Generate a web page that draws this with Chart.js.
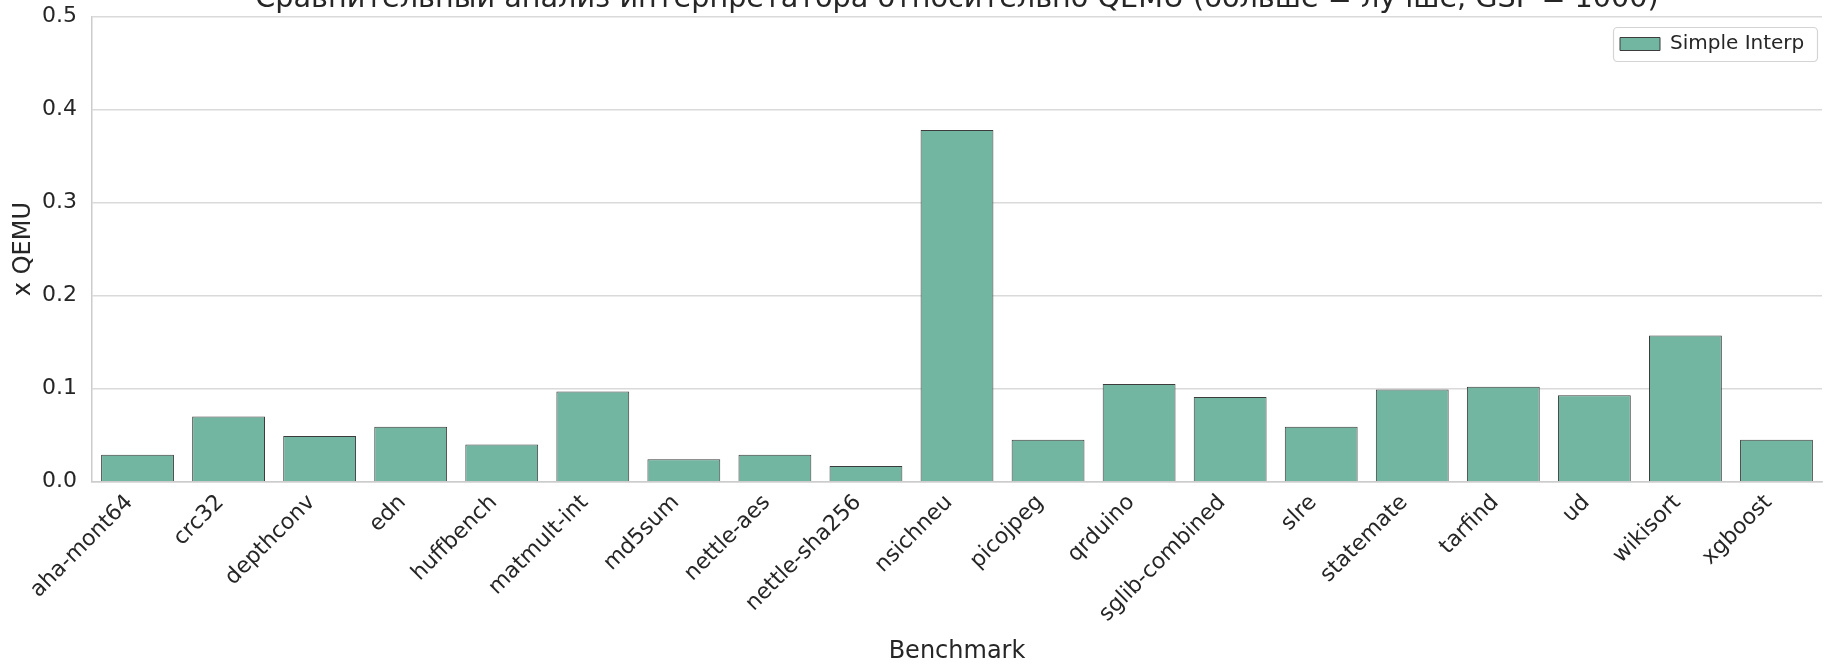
<!DOCTYPE html>
<html>
<head>
<meta charset="utf-8">
<script src="https://cdn.jsdelivr.net/npm/chart.js@4.4.1/dist/chart.umd.min.js"></script>
<style>
  html, body { margin: 0; padding: 0; background: #ffffff; overflow: hidden; }
  #ChartWrapper { width: 1824px; height: 664px; overflow: hidden; position: relative; }
  /* the title is cut at the top in the original, so the canvas is pushed up a bit */
  #Chartjs { position: absolute; left: 0; top: -18px; }
</style>
</head>
<body>
<div id="ChartWrapper">
  <canvas id="Chartjs" width="1824" height="682"></canvas>
</div>
<script>
// DATA
const benchmarks = ['aha-mont64', 'crc32', 'depthconv', 'edn', 'huffbench', 'matmult-int', 'md5sum',
  'nettle-aes', 'nettle-sha256', 'nsichneu', 'picojpeg', 'qrduino', 'sglib-combined', 'slre',
  'statemate', 'tarfind', 'ud', 'wikisort', 'xgboost'];
const simpleInterp = [0.029, 0.070, 0.049, 0.059, 0.040, 0.097, 0.024,
  0.029, 0.017, 0.378, 0.045, 0.105, 0.091, 0.059,
  0.099, 0.102, 0.093, 0.157, 0.045];
const yTicks = [0.0, 0.1, 0.2, 0.3, 0.4, 0.5];

const titleText = 'Сравнительный анализ интерпретатора относительно QEMU (больше = лучше, GSF = 1000)';
const textColor = '#262626';
const gridColor = '#dadada';
const FONT = "'DejaVu Sans', sans-serif";
const SHIFT = 18; // canvas offset (px) above the visible window

// legend sits in the upper right corner of the plot, with a thin frame
const legendFrame = {
  id: 'legendFrame',
  beforeDraw(chart) {
    const lg = chart.legend;
    if (!lg) return;
    lg.left = 1613;
    lg.top = 27 + SHIFT;
    lg.width = 205;
    lg.height = 35;
    lg.right = lg.left + lg.width;
    lg.bottom = lg.top + lg.height;
  },
  afterDraw(chart) {
    const lg = chart.legend;
    if (!lg) return;
    const ctx = chart.ctx;
    ctx.save();
    ctx.strokeStyle = '#d4d4d4';
    ctx.lineWidth = 1.2;
    ctx.beginPath();
    ctx.roundRect(lg.left + 0.5, lg.top + 0.5, lg.width - 1, lg.height - 1, 4);
    ctx.stroke();
    ctx.restore();
  }
};

const data = {
  labels: benchmarks,
  datasets: [{
    label: 'Simple Interp',
    data: simpleInterp,
    backgroundColor: '#72b5a1',
    borderColor: '#3c3c3c',
    borderWidth: 1,
    categoryPercentage: 1.0,
    barPercentage: 0.8
  }]
};

const config = {
  type: 'bar',
  data,
  options: {
    responsive: false,
    animation: false,
    layout: { padding: { left: 6, right: 2, top: 0, bottom: 0 } },
    plugins: {
      title: {
        display: true,
        text: titleText,
        fullSize: false,
        color: textColor,
        font: { family: FONT, size: 28.7, weight: 'normal', lineHeight: 1.2 },
        padding: { top: 0, bottom: 0 }
      },
      legend: {
        position: 'chartArea',
        align: 'start',
        labels: {
          color: textColor,
          font: { family: FONT, size: 20 },
          boxWidth: 40,
          boxHeight: 13,
          padding: 7
        }
      },
      tooltip: { enabled: false }
    },
    scales: {
      x: {
        grid: { display: false, drawTicks: false },
        border: { color: '#cccccc', width: 1.5 },
        afterFit: (scale) => {
          scale.height = 664 - 481.7;
          scale.paddingLeft = 0;
          scale.paddingRight = 0;
        },
        ticks: {
          color: textColor,
          font: { family: FONT, size: 22 },
          minRotation: 45,
          maxRotation: 45,
          autoSkip: false,
          padding: 8,
          labelOffset: -8
        },
        title: {
          display: true,
          text: 'Benchmark',
          color: textColor,
          font: { family: FONT, size: 24, lineHeight: 1.0 },
          padding: { top: 0, bottom: 0 }
        }
      },
      y: {
        min: 0,
        max: 0.5,
        afterBuildTicks: (scale) => { scale.ticks = yTicks.map(v => ({ value: v })); },
        afterFit: (scale) => { scale.width = 86; },
        grid: { color: gridColor, lineWidth: 1.5, drawTicks: false },
        border: { color: '#cccccc', width: 1.5 },
        ticks: {
          color: textColor,
          font: { family: FONT, size: 22 },
          padding: 15,
          callback: (v) => Number(v).toFixed(1)
        },
        title: {
          display: true,
          text: 'x QEMU',
          color: textColor,
          font: { family: FONT, size: 24, lineHeight: 1.0 },
          padding: { top: 6, bottom: 0 }
        }
      }
    }
  },
  plugins: [legendFrame]
};

let myChart = new Chart(document.getElementById('Chartjs'), config);
</script>
</body>
</html>
